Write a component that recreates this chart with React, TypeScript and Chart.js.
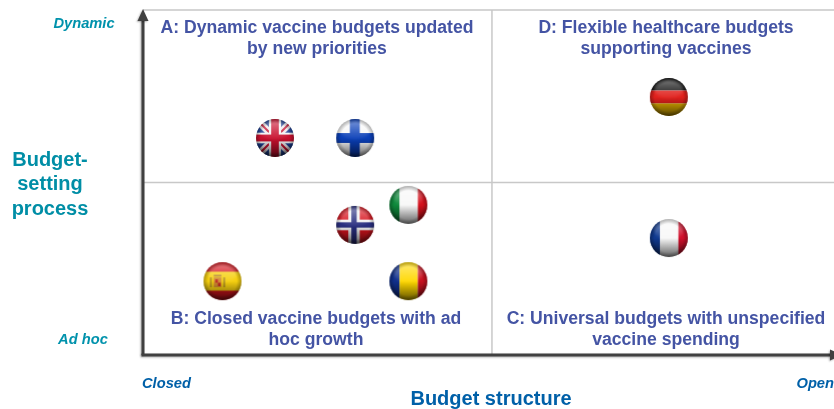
import React, { useEffect, useRef } from "react";
import { Chart, registerables } from "chart.js";

Chart.register(...registerables);

const countries = ["United Kingdom", "Finland", "Italy", "Norway", "Spain", "Romania", "Germany", "France"];
const structureValues = [19.1, 30.7, 38.4, 30.7, 11.5, 38.4, 76.1, 76.1];
const processValues = [62.9, 62.9, 43.5, 37.7, 21.4, 21.4, 74.8, 33.9];
const quadrantSplitX = 50.5;
const quadrantSplitY = 50;
const xEndLabels = ["Closed", "Open"];
const yEndLabels = ["Ad hoc", "Dynamic"];
const xTitle = "Budget structure";
const yTitle = ["Budget-", "setting", "process"];
const quadrantA = ["A: Dynamic vaccine budgets updated", "by new priorities"];
const quadrantB = ["B: Closed vaccine budgets with ad", "hoc growth"];
const quadrantC = ["C: Universal budgets with unspecified", "vaccine spending"];
const quadrantD = ["D: Flexible healthcare budgets", "supporting vaccines"];

const SIZE = 40;
const R = 19;

function paintStripes(g: CanvasRenderingContext2D, name: string) {
  const L = SIZE / 2 - R;
  const T = SIZE / 2 - R;
  const D = R * 2;
  const rect = (col: string, x: number, y: number, w: number, h: number) => {
    g.fillStyle = col;
    g.fillRect(L + x * D, T + y * D, w * D, h * D);
  };
  if (name === "United Kingdom") {
    rect("#1c3f94", 0, 0, 1, 1);
    g.lineCap = "butt";
    g.strokeStyle = "#f0e8ea";
    g.lineWidth = 7;
    g.beginPath();
    g.moveTo(L, T); g.lineTo(L + D, T + D);
    g.moveTo(L + D, T); g.lineTo(L, T + D);
    g.stroke();
    g.strokeStyle = "#c8102e";
    g.lineWidth = 2;
    g.stroke();
    rect("#f4f4f4", 0.34, 0, 0.32, 1);
    rect("#f4f4f4", 0, 0.36, 1, 0.28);
    rect("#c8102e", 0.4, 0, 0.2, 1);
    rect("#c8102e", 0, 0.41, 1, 0.18);
  } else if (name === "Finland") {
    rect("#f8f8f8", 0, 0, 1, 1);
    rect("#0a3fb8", 0.36, 0, 0.26, 1);
    rect("#0a3fb8", 0, 0.37, 1, 0.26);
  } else if (name === "Norway") {
    rect("#d8141e", 0, 0, 1, 1);
    rect("#f4f4f4", 0.32, 0, 0.3, 1);
    rect("#f4f4f4", 0, 0.36, 1, 0.28);
    rect("#2a2f80", 0.4, 0, 0.14, 1);
    rect("#2a2f80", 0, 0.43, 1, 0.14);
  } else if (name === "Italy") {
    rect("#0f8a3c", 0, 0, 0.27, 1);
    rect("#f8f8f8", 0.27, 0, 0.48, 1);
    rect("#d4101c", 0.75, 0, 0.25, 1);
  } else if (name === "Romania") {
    rect("#10308c", 0, 0, 0.27, 1);
    rect("#ffd800", 0.27, 0, 0.48, 1);
    rect("#c8101e", 0.75, 0, 0.25, 1);
  } else if (name === "France") {
    rect("#103a90", 0, 0, 0.27, 1);
    rect("#f8f8f8", 0.27, 0, 0.48, 1);
    rect("#d0102c", 0.75, 0, 0.25, 1);
  } else if (name === "Germany") {
    rect("#111111", 0, 0, 1, 0.33);
    rect("#e0201c", 0, 0.33, 1, 0.34);
    rect("#e8b400", 0, 0.67, 1, 0.33);
  } else if (name === "Spain") {
    rect("#d4141c", 0, 0, 1, 1);
    rect("#f6d010", 0, 0.25, 1, 0.5);
    rect("#d08a30", 0.27, 0.4, 0.2, 0.26);
    rect("#c02a20", 0.31, 0.45, 0.07, 0.09);
    rect("#c02a20", 0.38, 0.54, 0.07, 0.09);
    rect("#b09020", 0.17, 0.4, 0.05, 0.26);
    rect("#b09020", 0.52, 0.4, 0.05, 0.26);
    rect("#b8862a", 0.27, 0.33, 0.2, 0.05);
  }
}

function makeFlag(name: string): HTMLCanvasElement {
  const base = document.createElement("canvas");
  base.width = SIZE;
  base.height = SIZE;
  paintStripes(base.getContext("2d")!, name);

  const c = document.createElement("canvas");
  c.width = SIZE;
  c.height = SIZE;
  const g = c.getContext("2d")!;
  const cx = SIZE / 2;
  const cy = SIZE / 2;
  const L = cx - R;
  const T = cy - R;
  const D = R * 2;
  g.save();
  g.beginPath();
  g.arc(cx, cy, R, 0, Math.PI * 2);
  g.clip();
  g.filter = "blur(0.6px)";
  g.drawImage(base, 0, 0);
  // top gloss
  g.filter = "blur(1.5px)";
  const top = g.createLinearGradient(0, T + 2, 0, cy + 1);
  top.addColorStop(0, "rgba(255,255,255,0.42)");
  top.addColorStop(0.55, "rgba(255,255,255,0.2)");
  top.addColorStop(1, "rgba(255,255,255,0.04)");
  g.fillStyle = top;
  g.beginPath();
  g.ellipse(cx, T + D * 0.29, R * 0.78, R * 0.5, 0, 0, Math.PI * 2);
  g.fill();
  g.filter = "none";
  // dark lower part
  const low = g.createLinearGradient(0, cy, 0, T + D);
  low.addColorStop(0, "rgba(0,0,0,0)");
  low.addColorStop(1, "rgba(0,0,0,0.62)");
  g.fillStyle = low;
  g.fillRect(L, cy, D, R);
  // rim
  const rim = g.createRadialGradient(cx, cy, R * 0.75, cx, cy, R);
  rim.addColorStop(0, "rgba(0,0,0,0)");
  rim.addColorStop(1, "rgba(0,0,0,0.3)");
  g.fillStyle = rim;
  g.fillRect(L, T, D, D);
  g.restore();
  return c;
}

const arrow = (ctx: CanvasRenderingContext2D, x0: number, y0: number, x1: number, y1: number) => {
  const col = "#404040";
  ctx.save();
  ctx.shadowColor = "rgba(0,0,0,0.3)";
  ctx.shadowBlur = 2;
  ctx.shadowOffsetX = -1;
  ctx.shadowOffsetY = 1;
  ctx.strokeStyle = col;
  ctx.fillStyle = col;
  ctx.lineWidth = 3;
  ctx.beginPath();
  ctx.moveTo(x0, y0);
  ctx.lineTo(x1, y1);
  ctx.stroke();
  ctx.beginPath();
  if (x0 === x1) {
    ctx.moveTo(x1, y1 - 11);
    ctx.lineTo(x1 - 5.5, y1 + 1);
    ctx.lineTo(x1 + 5.5, y1 + 1);
  } else {
    ctx.moveTo(x1 + 11, y1);
    ctx.lineTo(x1 - 1, y1 - 5.5);
    ctx.lineTo(x1 - 1, y1 + 5.5);
  }
  ctx.closePath();
  ctx.fill();
  ctx.restore();
};

const FONT = '"Liberation Sans", Arial, sans-serif';

const backdrop = {
  id: "backdrop",
  beforeDatasetsDraw(chart: any) {
    const { ctx, scales } = chart;
    const { x, y } = scales;
    const left = x.left;
    const right = x.right;
    const top = y.top;
    const bottom = y.bottom;
    const mx = x.getPixelForValue(quadrantSplitX);
    const my = y.getPixelForValue(quadrantSplitY);
    ctx.save();
    ctx.strokeStyle = "#c8c8c8";
    ctx.lineWidth = 1.5;
    ctx.beginPath();
    ctx.moveTo(left, top); ctx.lineTo(right, top);
    ctx.moveTo(left, my); ctx.lineTo(right, my);
    ctx.moveTo(mx, top); ctx.lineTo(mx, bottom);
    ctx.stroke();
    ctx.restore();
    arrow(ctx, left, bottom, left, top + 10);
    arrow(ctx, left - 1.5, bottom, right - 3, bottom);

    const text = (lines: string[], px: number, py: number, lh: number, font: string, col: string, align: CanvasTextAlign) => {
      ctx.save();
      ctx.font = font;
      ctx.fillStyle = col;
      ctx.textAlign = align;
      ctx.textBaseline = "middle";
      lines.forEach((l, i) => ctx.fillText(l, px, py + i * lh));
      ctx.restore();
    };
    const qFont = `bold 17.6px ${FONT}`;
    const qCol = "#4454a4";
    text(quadrantA, 317, 28, 21, qFont, qCol, "center");
    text(quadrantD, 666, 28, 21, qFont, qCol, "center");
    text(quadrantB, 316, 319, 21, qFont, qCol, "center");
    text(quadrantC, 666, 319, 21, qFont, qCol, "center");

    const endFont = `italic bold 14.7px ${FONT}`;
    text([yEndLabels[1]], 84, 24, 0, endFont, "#0092ac", "center");
    text([yEndLabels[0]], 83, 340, 0, endFont, "#0092ac", "center");
    text([xEndLabels[0]], 142, 384, 0, endFont, "#0060a8", "left");
    text([xEndLabels[1]], 834, 384, 0, endFont, "#0060a8", "right");

    const titleFont = `bold 20px ${FONT}`;
    text(yTitle, 50, 160, 24.5, titleFont, "#008ea6", "center");
    text([xTitle], 491, 399, 0, titleFont, "#0060a8", "center");
  },
};

export default function App() {
  const ref = useRef<HTMLCanvasElement>(null);
  useEffect(() => {
    document.body.style.margin = "0";
    const chart = new Chart(ref.current!, {
      type: "scatter",
      data: {
        datasets: countries.map((name, i) => ({
          label: name,
          data: [{ x: structureValues[i], y: processValues[i] }],
          pointStyle: makeFlag(name) as any,
          pointRadius: 20,
          clip: false as any,
        })),
      },
      options: {
        responsive: false,
        animation: false,
        layout: { autoPadding: false, padding: { left: 143, right: 0, top: 10, bottom: 54 } },
        plugins: { legend: { display: false }, tooltip: { enabled: false } },
        scales: {
          x: { type: "linear", min: 0, max: 100, display: false },
          y: { type: "linear", min: 0, max: 100, display: false },
        },
      },
      plugins: [backdrop],
    });
    return () => chart.destroy();
  }, []);
  return <canvas ref={ref} width={834} height={409} style={{ display: "block" }} />;
}
